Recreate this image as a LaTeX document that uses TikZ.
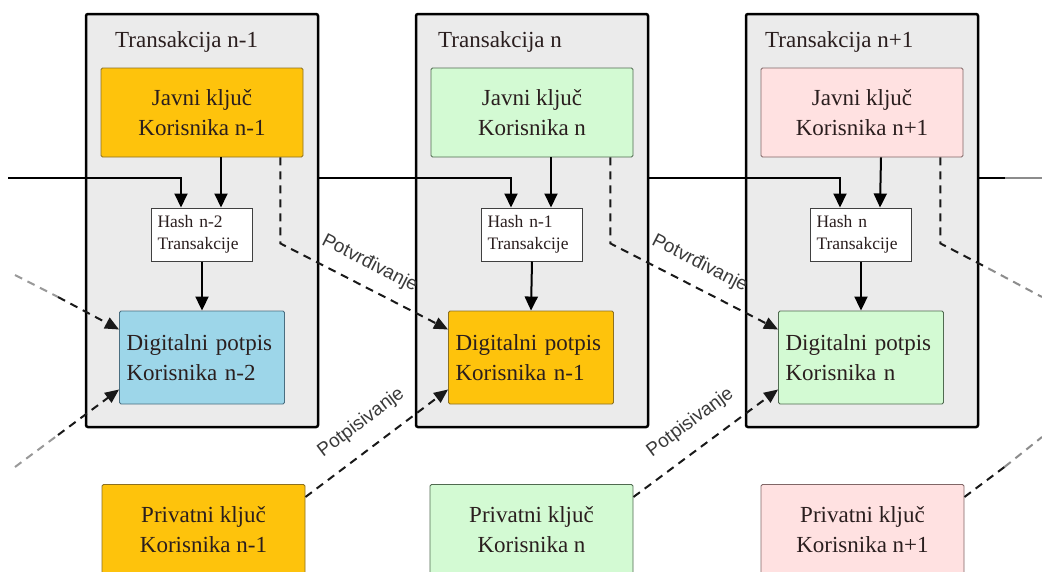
\documentclass[tikz,border=0pt]{standalone}
\usepackage{fontspec}
\setmainfont{Liberation Serif}
\newfontfamily\serfont{Liberation Serif}
\newfontfamily\lblfont{Liberation Sans}
\usetikzlibrary{arrows.meta,calc,positioning}
\definecolor{outergray}{HTML}{EBEBEB}
\definecolor{orangefill}{HTML}{FEC30C}
\definecolor{orangeline}{HTML}{8C7020}
\definecolor{greenfill}{HTML}{D3FAD3}
\definecolor{greenline}{HTML}{506A50}
\definecolor{pinkfill}{HTML}{FFE1E1}
\definecolor{pinkline}{HTML}{806666}
\definecolor{bluefill}{HTML}{9DD6E9}
\definecolor{blueline}{HTML}{4A6E80}
\definecolor{txt}{HTML}{2A1E1E}
\definecolor{lbltxt}{HTML}{3A3A3A}
\begin{document}
\begin{tikzpicture}[x=1pt,y=-1pt,
  outerbox/.style={draw=black, line width=2.5pt, fill=outergray, rounded corners=2pt,
    minimum width=232pt, minimum height=413pt, inner sep=0pt},
  titletext/.style={anchor=base west, inner sep=0pt, text=txt,
    font=\serfont\fontsize{23}{30}\selectfont},
  keybox/.style={rounded corners=1.5pt, line width=0.9pt, inner sep=0pt, align=center,
    text=txt, font=\serfont\fontsize{23}{30}\selectfont},
  javnibox/.style={keybox, minimum width=202pt, minimum height=89pt},
  privbox/.style={keybox, minimum width=203pt, minimum height=90pt, anchor=north},
  sigbox/.style={keybox, minimum width=165pt, minimum height=93pt, text width=151pt,
    align=left, inner xsep=7pt},
  hashbox/.style={draw=black!75, fill=white, line width=1pt, minimum width=101pt,
    minimum height=53pt, text width=89pt, inner xsep=6pt, inner ysep=0pt, align=left,
    text=txt, font=\serfont\fontsize{17.5}{22}\selectfont},
  solidarrow/.style={line width=2pt, draw=black, -{Triangle[length=14pt,width=13pt]}},
  mainline/.style={line width=2pt, draw=black},
  dline/.style={line width=2pt, draw=black!90, dash pattern=on 8pt off 6pt},
  darrow/.style={dline, -{Triangle[length=14pt,width=12pt]}},
  lbl/.style={inner sep=0pt, text=lbltxt, font=\lblfont\fontsize{19}{21}\selectfont}
]
\clip (0,0) rectangle (1042,571);
\fill[white] (0,0) rectangle (1042,571);

% outer transaction boxes
\node[outerbox] (t1) at (202,220.5) {};
\node[outerbox] (t2) at (532,220.5) {};
\node[outerbox] (t3) at (862,220.5) {};

\node[titletext] (n1) at (115,47) {Transakcija n-1};
\node[titletext] (n2) at (438,47) {Transakcija n};
\node[titletext] (n3) at (765,47) {Transakcija n+1};

% public keys
\node[javnibox, fill=orangefill, draw=orangeline] (j1) at (202,112.5) {Javni ključ\\Korisnika n-1};
\node[javnibox, fill=greenfill, draw=greenline] (j2) at (532,112.5) {Javni ključ\\Korisnika n};
\node[javnibox, fill=pinkfill, draw=pinkline] (j3) at (862,112.5) {Javni ključ\\Korisnika n+1};

% hash boxes
\node[hashbox] (h1) at (202,234.5) {Hash n-2\\Transakcije};
\node[hashbox] (h2) at (532,234.5) {Hash n-1\\Transakcije};
\node[hashbox] (h3) at (861,234.5) {Hash n\\Transakcije};

% signatures
\node[sigbox, fill=bluefill, draw=blueline] (d1) at (202,357.5) {Digitalni potpis\\Korisnika n-2};
\node[sigbox, fill=orangefill, draw=orangeline] (d2) at (531,357.5) {Digitalni potpis\\Korisnika n-1};
\node[sigbox, fill=greenfill, draw=greenline] (d3) at (861,357.5) {Digitalni potpis\\Korisnika n};

% private keys
\node[privbox, fill=orangefill, draw=orangeline] (p1) at (203.5,484) {Privatni ključ\\Korisnika n-1};
\node[privbox, fill=greenfill, draw=greenline] (p2) at (531.5,484) {Privatni ključ\\Korisnika n};
\node[privbox, fill=pinkfill, draw=pinkline] (p3) at (862.5,484) {Privatni ključ\\Korisnika n+1};

% chain line
\coordinate (in0) at (8,178);
\coordinate (out0) at (1042,178);
\coordinate (outmid) at (1005,178);
\draw[solidarrow] (in0) -| ([xshift=-21pt]h1.north);
\draw[solidarrow] (t1.east |- in0) -| ([xshift=-21pt]h2.north);
\draw[solidarrow] (t2.east |- in0) -| ([xshift=-21pt]h3.north);
\draw[mainline] (t3.east |- in0) -- (outmid);
\draw[mainline, draw=black!45] (outmid) -- (out0);

% public key -> hash, hash -> signature
\foreach \i in {1,2,3}{
  \draw[solidarrow] ([xshift=19pt]j\i.south) -- ([xshift=19pt]h\i.north);
  \draw[solidarrow] (h\i.south) -- (d\i.north);
}

% verification (Potvrdjivanje)
\draw[darrow] ([xshift=-23pt]j1.south east) -- ++(0,86)
  -- node[lbl, sloped, pos=0.47, above=13pt] {Potvrđivanje} ([yshift=28pt]d2.west);
\draw[darrow] ([xshift=-23pt]j2.south east) -- ++(0,86)
  -- node[lbl, sloped, pos=0.47, above=13pt] {Potvrđivanje} ([yshift=28pt]d3.west);
\draw[dline] ([xshift=-23pt]j3.south east) -- ++(0,86) coordinate (v3) -- ++(48,25) coordinate (v3b);
\coordinate (o1) at (1042,297);
\draw[dline, draw=black!45] (v3b) -- (o1);

% signing (Potpisivanje)
\draw[darrow] ([yshift=-13pt]p1.north east)
  -- node[lbl, sloped, pos=0.5, above=16pt] {Potpisivanje} ([yshift=-32pt]d2.west);
\draw[darrow] ([yshift=-13pt]p2.north east)
  -- node[lbl, sloped, pos=0.5, above=16pt] {Potpisivanje} ([yshift=-32pt]d3.west);
\draw[dline] ([yshift=-13pt]p3.north east) -- ++(40,-30) coordinate (q3);
\coordinate (o2) at (1042,437);
\draw[dline, draw=black!45] (q3) -- (o2);

% incoming lines from previous transaction
\coordinate (a0) at (15,275);
\coordinate (a1) at (58,297);
\coordinate (b0) at (15,467);
\coordinate (b1) at (58,435);
\draw[dline, draw=black!40] (a0) -- (a1);
\draw[darrow] (a1) -- ([yshift=28pt]d1.west);
\draw[dline, draw=black!40] (b0) -- (b1);
\draw[darrow] (b1) -- ([yshift=-32pt]d1.west);
\end{tikzpicture}
\end{document}
